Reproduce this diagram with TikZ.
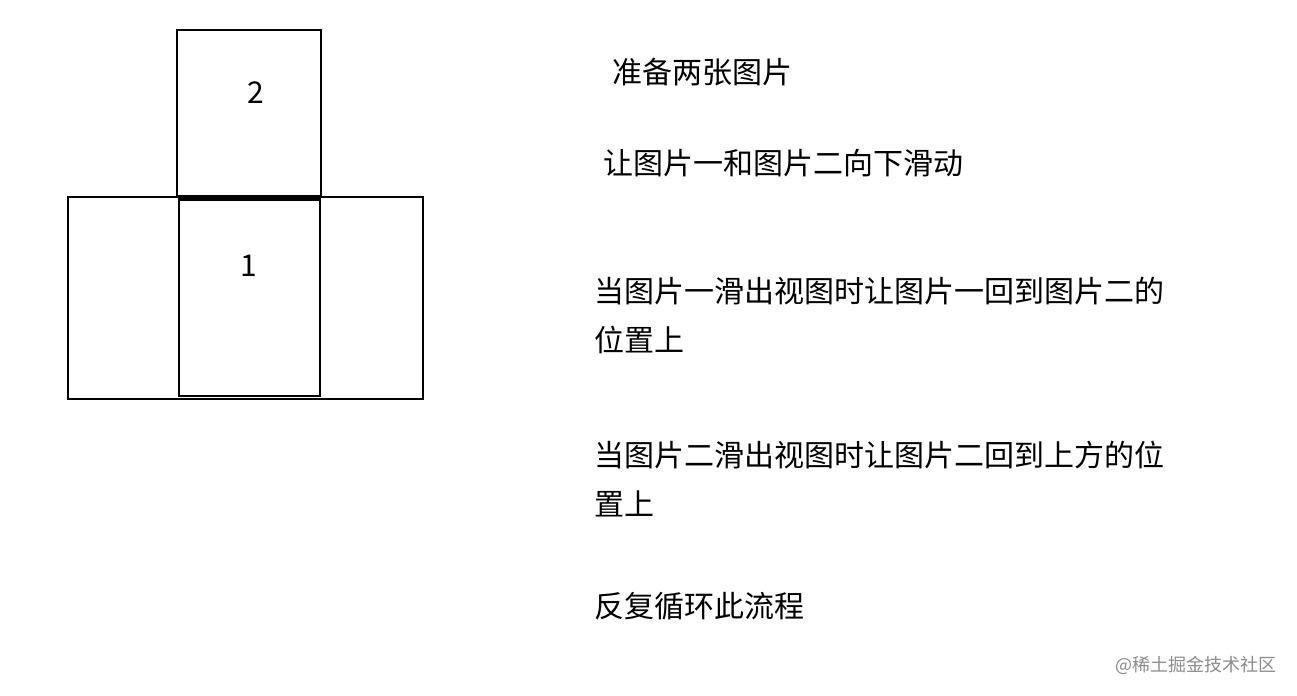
\documentclass[tikz,border=0pt]{standalone}
\usepackage{fontspec}
\setmainfont{Noto Sans CJK SC}
\begin{document}
\begin{tikzpicture}[x=0.75pt,y=-0.75pt]
\tikzset{step text/.style={anchor=west,inner sep=0pt,align=left,font=\fontsize{22.5}{36.75}\selectfont},
  frame/.style={line width=1.5pt}}
\useasboundingbox[fill=white] (0,0) rectangle (1297,696);
% view and the two pictures
\draw[frame] (68,197) rectangle (423,399);
\draw[frame] (177,30) rectangle (321,196);
\draw[frame] (179,199) rectangle (320,396);
\draw[line width=3pt] (179,198.5) -- (320,198.5);
\node[inner sep=0pt,font=\fontsize{22.5}{22.5}\selectfont] (two) at (256,93) {2};
\node[inner sep=0pt,font=\fontsize{22.5}{22.5}\selectfont] (one) at (249,266) {1};
% steps
\node[step text] (s1) at (612,72) {准备两张图片};
\node[step text] (s2) at (603,163) {让图片一和图片二向下滑动};
\node[step text] (s3) at (594,315.5) {当图片一滑出视图时让图片一回到图片二的\\位置上};
\node[step text] (s4) at (594,479.5) {当图片二滑出视图时让图片二回到上方的位\\置上};
\node[step text] (s5) at (594,606) {反复循环此流程};
\node[anchor=east,inner sep=0pt,text=black!45,font=\fontsize{13.5}{13.5}\selectfont] (mark) at (1277,665) {@稀土掘金技术社区};
\end{tikzpicture}
\end{document}
